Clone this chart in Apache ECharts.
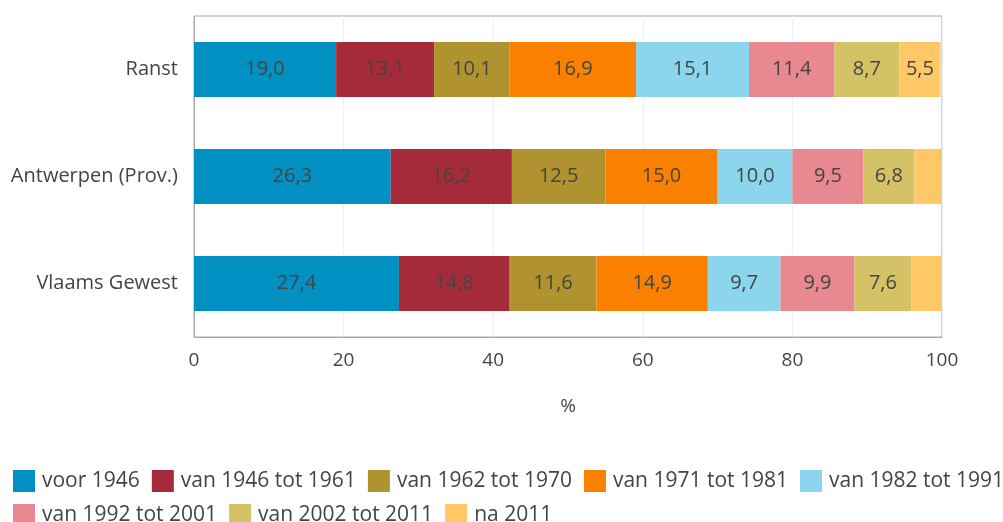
<!DOCTYPE html>
<html>
<head>
<meta charset="utf-8">
<script src="https://cdn.jsdelivr.net/npm/echarts@6/dist/echarts.min.js"></script>
<style>
  html, body { margin: 0; padding: 0; background: #fff; }
  #chart { width: 1003px; height: 522px; }
</style>
</head>
<body>
<div id="chart"></div>
<script>
// Bouwperiode van woningen, aandeel in %
const categories = ['Ranst', 'Antwerpen (Prov.)', 'Vlaams Gewest'];
const periods = ['voor 1946', 'van 1946 tot 1961', 'van 1962 tot 1970', 'van 1971 tot 1981',
                 'van 1982 tot 1991', 'van 1992 tot 2001', 'van 2002 tot 2011', 'na 2011'];
const voor1946   = [19.0, 26.3, 27.4];
const van1946    = [13.1, 16.2, 14.8];
const van1962    = [10.1, 12.5, 11.6];
const van1971    = [16.9, 15.0, 14.9];
const van1982    = [15.1, 10.0, 9.7];
const van1992    = [11.4, 9.5, 9.9];
const van2002    = [8.7, 6.8, 7.6];
const na2011     = [5.5, 3.7, 4.1];
const xTicks = [0, 20, 40, 60, 80, 100];

const seriesValues = [voor1946, van1946, van1962, van1971, van1982, van1992, van2002, na2011];
const colors = ['#0091c2', '#a52b3a', '#b0932e', '#fa8000', '#8bd5ed', '#e88891', '#d5c166', '#ffc766'];
// Segments too narrow for a readable label stay unlabelled
const minLabelValue = 5;

const fontFamily = '"Open Sans", sans-serif';
const textColor = '#444444';

const chart = echarts.init(document.getElementById('chart'), null, { renderer: 'canvas' });

const series = periods.map((name, i) => ({
  name: name,
  type: 'bar',
  stack: 'total',
  barWidth: 55,
  data: seriesValues[i],
  itemStyle: { color: colors[i] },
  label: {
    show: true,
    position: 'inside',
    color: textColor,
    fontFamily: fontFamily,
    fontSize: 20,
    formatter: p => p.value < minLabelValue ? '' : p.value.toFixed(1).replace('.', ',')
  },
  emphasis: { disabled: true }
}));

chart.setOption({
  animation: false,
  color: colors,
  grid: { left: 194, right: 61, top: 16, bottom: 185, show: true, borderColor: '#a8a8a8', borderWidth: 1 },
  xAxis: {
    type: 'value',
    min: xTicks[0],
    max: xTicks[xTicks.length - 1],
    interval: 20,
    name: '%',
    nameLocation: 'middle',
    nameGap: 60,
    nameTextStyle: { color: textColor, fontFamily: fontFamily, fontSize: 19 },
    axisLine: { show: true, lineStyle: { color: '#a8a8a8' } },
    axisTick: { show: false },
    axisLabel: { color: textColor, fontFamily: fontFamily, fontSize: 19, margin: 14 },
    splitLine: { show: true, lineStyle: { color: '#e3f3fa', width: 1 } }
  },
  yAxis: {
    type: 'category',
    data: categories,
    inverse: true,
    axisLine: { show: true, lineStyle: { color: '#a8a8a8' } },
    axisTick: { show: false },
    axisLabel: { color: textColor, fontFamily: fontFamily, fontSize: 20, margin: 16 }
  },
  legend: {
    left: 8,
    width: 1000,
    top: 465,
    itemWidth: 22,
    itemHeight: 22,
    itemGap: 12,
    icon: 'rect',
    textStyle: { color: textColor, fontFamily: fontFamily, fontSize: 21, padding: [0, 0, 0, 2] },
    data: periods
  },
  series: series
});
</script>
</body>
</html>
